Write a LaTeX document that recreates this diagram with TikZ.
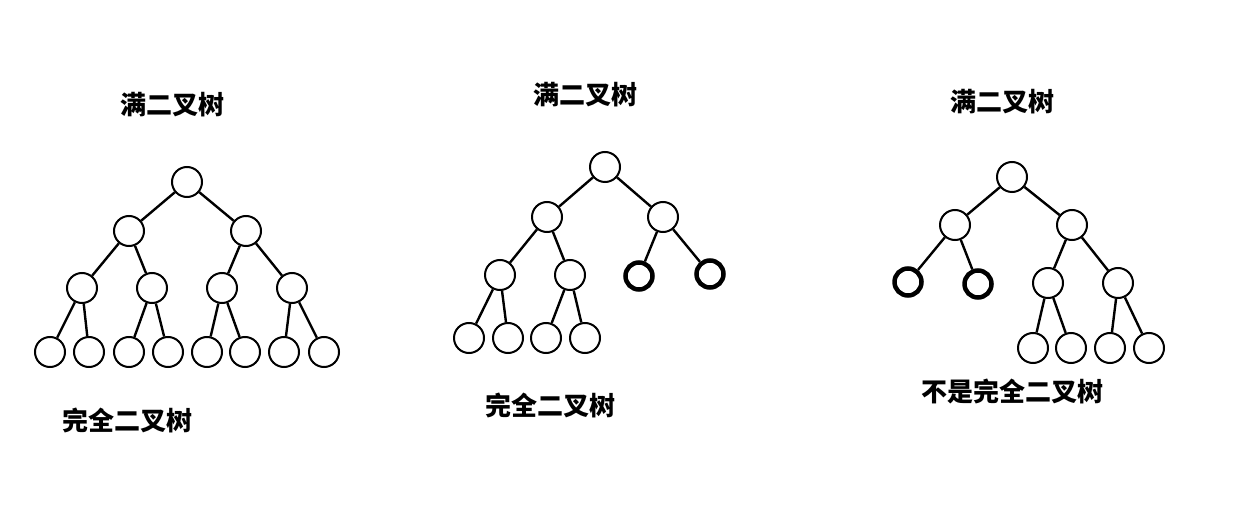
\documentclass[tikz,border=0pt]{standalone}
\usepackage{fontspec}
\newfontfamily\cjk{Noto Sans CJK SC}
\begin{document}
\begin{tikzpicture}[x=1pt,y=-1pt,line width=2.4pt]
  \tikzstyle{vertex}=[circle,draw,line width=2pt,minimum size=30pt,inner sep=0pt]
  \tikzstyle{lone}=[circle,draw,line width=4.5pt,minimum size=27pt,inner sep=0pt]
  \tikzstyle{caption}=[inner sep=0pt,font=\cjk\bfseries\fontsize{26}{30}\selectfont]
  \useasboundingbox (0,0) rectangle (1244,518);
  % full binary tree
  \node[vertex] (F_1) at (187,182) {};
  \node[vertex] (F_2) at (129,231) {};
  \node[vertex] (F_3) at (246,231) {};
  \node[vertex] (F_4) at (82,288) {};
  \node[vertex] (F_5) at (152,288) {};
  \node[vertex] (F_6) at (222,288) {};
  \node[vertex] (F_7) at (292,288) {};
  \node[vertex] (F_8) at (50,352) {};
  \node[vertex] (F_9) at (89,352) {};
  \node[vertex] (F_10) at (129,352) {};
  \node[vertex] (F_11) at (168,352) {};
  \node[vertex] (F_12) at (207,352) {};
  \node[vertex] (F_13) at (245,352) {};
  \node[vertex] (F_14) at (284,352) {};
  \node[vertex] (F_15) at (324,352) {};
  \draw (F_1) -- (F_2) (F_1) -- (F_3);
  \draw (F_2) -- (F_4) (F_2) -- (F_5) (F_3) -- (F_6) (F_3) -- (F_7);
  \draw (F_4) -- (F_8) (F_4) -- (F_9) (F_5) -- (F_10) (F_5) -- (F_11);
  \draw (F_6) -- (F_12) (F_6) -- (F_13) (F_7) -- (F_14) (F_7) -- (F_15);
  \node[caption] (F_top) at (172,105) {满二叉树};
  \node[caption] (F_bot) at (127,420) {完全二叉树};
  % complete binary tree
  \node[vertex] (C_1) at (605,167) {};
  \node[vertex] (C_2) at (547,217) {};
  \node[vertex] (C_3) at (663,217) {};
  \node[vertex] (C_4) at (500,275) {};
  \node[vertex] (C_5) at (570,275) {};
  \node[lone] (C_6) at (639,276) {};
  \node[lone] (C_7) at (710,274) {};
  \node[vertex] (C_8) at (469,338) {};
  \node[vertex] (C_9) at (508,338) {};
  \node[vertex] (C_10) at (546,338) {};
  \node[vertex] (C_11) at (585,338) {};
  \draw (C_1) -- (C_2) (C_1) -- (C_3);
  \draw (C_2) -- (C_4) (C_2) -- (C_5) (C_3) -- (C_6) (C_3) -- (C_7);
  \draw (C_4) -- (C_8) (C_4) -- (C_9) (C_5) -- (C_10) (C_5) -- (C_11);
  \node[caption] (C_top) at (585,95) {满二叉树};
  \node[caption] (C_bot) at (550,405) {完全二叉树};
  % not complete
  \node[vertex] (N_1) at (1012,177) {};
  \node[vertex] (N_2) at (955,225) {};
  \node[vertex] (N_3) at (1072,225) {};
  \node[lone] (N_4) at (908,282) {};
  \node[lone] (N_5) at (978,284) {};
  \node[vertex] (N_6) at (1048,283) {};
  \node[vertex] (N_7) at (1118,283) {};
  \node[vertex] (N_8) at (1033,348) {};
  \node[vertex] (N_9) at (1071,348) {};
  \node[vertex] (N_10) at (1110,348) {};
  \node[vertex] (N_11) at (1149,348) {};
  \draw (N_1) -- (N_2) (N_1) -- (N_3);
  \draw (N_2) -- (N_4) (N_2) -- (N_5) (N_3) -- (N_6) (N_3) -- (N_7);
  \draw (N_6) -- (N_8) (N_6) -- (N_9) (N_7) -- (N_10) (N_7) -- (N_11);
  \node[caption] (N_top) at (1002,102) {满二叉树};
  \node[caption] (N_bot) at (1012,391) {不是完全二叉树};
\end{tikzpicture}
\end{document}
